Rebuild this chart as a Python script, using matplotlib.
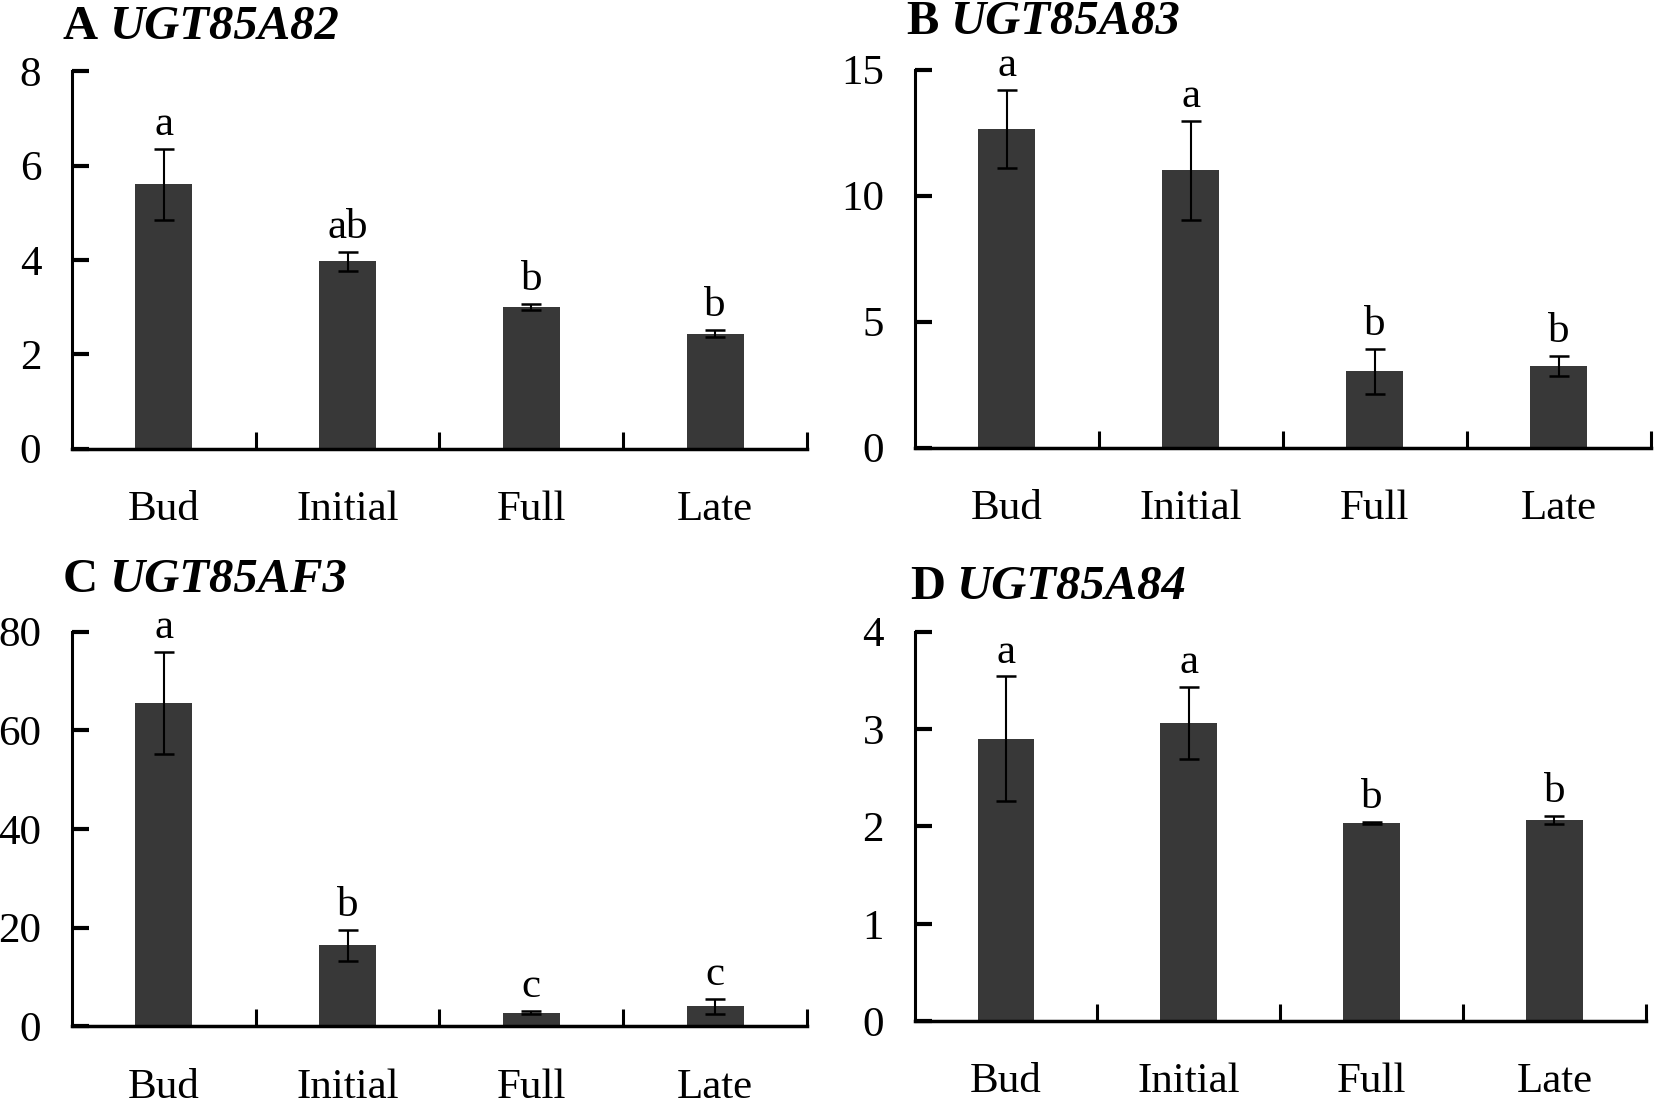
import matplotlib
matplotlib.use('Agg')
import matplotlib.pyplot as plt
import numpy as np

plt.rcParams['font.family'] = ['Liberation Serif', 'DejaVu Serif']

stages = ['Bud', 'Initial', 'Full', 'Late']

# A UGT85A82
a_vals = [5.6, 3.97, 3.0, 2.44]
a_err = [0.76, 0.2, 0.06, 0.07]
a_sig = ['a', 'ab', 'b', 'b']
# B UGT85A83
b_vals = [12.65, 11.0, 3.03, 3.24]
b_err = [1.55, 1.95, 0.9, 0.4]
b_sig = ['a', 'a', 'b', 'b']
# C UGT85AF3
c_vals = [65.5, 16.4, 2.8, 4.1]
c_err = [10.3, 3.2, 0.3, 1.5]
c_sig = ['a', 'b', 'c', 'c']
# D UGT85A84
d_vals = [2.9, 3.06, 2.04, 2.07]
d_err = [0.64, 0.37, 0.01, 0.04]
d_sig = ['a', 'a', 'b', 'b']

panels = [
    ('A', 'UGT85A82', a_vals, a_err, a_sig, [0, 2, 4, 6, 8]),
    ('B', 'UGT85A83', b_vals, b_err, b_sig, [0, 5, 10, 15]),
    ('C', 'UGT85AF3', c_vals, c_err, c_sig, [0, 20, 40, 60, 80]),
    ('D', 'UGT85A84', d_vals, d_err, d_sig, [0, 1, 2, 3, 4]),
]

# axes boxes (figure fractions) and title anchor points
boxes = [
    [0.0434, 0.594, 0.4446, 0.3415],
    [0.553, 0.595, 0.445, 0.342],
    [0.0434, 0.0711, 0.4446, 0.3573],
    [0.553, 0.0758, 0.442, 0.3526],
]
title_pos = [(0.038, 0.965), (0.548, 0.969), (0.038, 0.4645), (0.550, 0.458)]

fig = plt.figure(figsize=(16.54, 11.05), dpi=100)
fs = 31

for (lab, gene, vals, err, sig, yt), box, tp in zip(panels, boxes, title_pos):
    ax = fig.add_axes(box)
    x = np.arange(len(stages)) + 0.5
    ax.bar(x, vals, width=0.31, color='#383838')
    ax.errorbar(x, vals, yerr=err, fmt='none', ecolor='black',
                elinewidth=1.5, capsize=7, capthick=1.8)
    for xi, v, e, s in zip(x, vals, err, sig):
        ax.annotate(s, (xi, v + e), xytext=(0, 10), textcoords='offset points',
                    ha='center', va='baseline', fontsize=fs)

    ax.set_xlim(0, 4)
    ax.set_ylim(yt[0], yt[-1])
    ax.spines['top'].set_visible(False)
    ax.spines['right'].set_visible(False)
    ax.spines['left'].set_linewidth(2.2)
    ax.spines['bottom'].set_linewidth(2.5)

    ax.set_yticks(yt)
    ax.set_yticklabels([str(t) for t in yt])
    ax.tick_params(axis='y', direction='in', length=12, width=3,
                   labelsize=fs, pad=22)
    # category boundaries get the tick marks, names sit in the middle
    ax.set_xticks([1, 2, 3, 4])
    ax.set_xticklabels([])
    ax.set_xticks(x, minor=True)
    ax.set_xticklabels(stages, minor=True)
    ax.tick_params(axis='x', which='major', direction='in', length=12, width=2.2)
    ax.tick_params(axis='x', which='minor', length=0, labelsize=fs, pad=30)

    t1 = fig.text(tp[0], tp[1], lab, fontsize=35, fontweight='bold',
                  ha='left', va='baseline')
    ax.annotate(gene, xy=(1, 0), xycoords=t1, xytext=(8, 0),
                textcoords='offset points', fontsize=35, fontweight='bold',
                fontstyle='italic', ha='left', va='bottom')

fig.savefig('out.png', dpi=100)
